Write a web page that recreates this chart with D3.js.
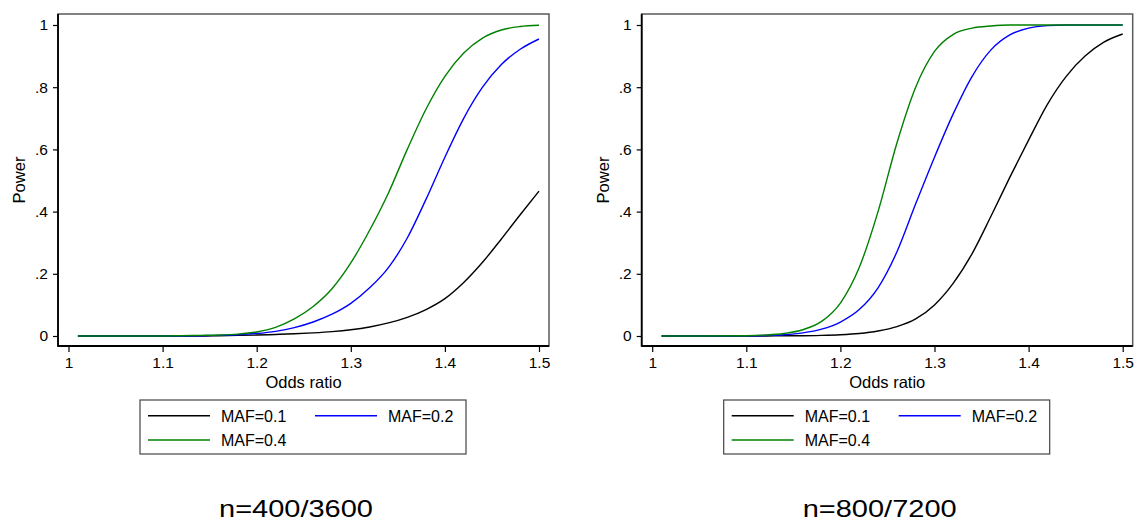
<!DOCTYPE html>
<html>
<head>
<meta charset="utf-8">
<script src="https://cdn.jsdelivr.net/npm/d3@7"></script>
<style>
  body { margin: 0; background: #fff; }
  text { font-family: "Liberation Sans", Arial, Helvetica, sans-serif; fill: #000; }
</style>
</head>
<body>
<div id="chart"></div>
<script>
// odds ratio grid the power values were read at
var oddsRatios = [1.01, 1.05, 1.10, 1.12, 1.14, 1.16, 1.18, 1.20, 1.22, 1.24, 1.26, 1.28,
                  1.30, 1.32, 1.34, 1.36, 1.38, 1.40, 1.42, 1.44, 1.46, 1.48, 1.50];

// n=400/3600
var power400_maf01 = [0, 0, 0, 0, 0, 0.001, 0.002, 0.003, 0.005, 0.007, 0.010, 0.014,
                      0.020, 0.029, 0.042, 0.060, 0.085, 0.120, 0.172, 0.237, 0.312, 0.390, 0.466];
var power400_maf02 = [0, 0, 0, 0, 0.001, 0.002, 0.004, 0.008, 0.015, 0.027, 0.045, 0.070,
                      0.105, 0.155, 0.220, 0.315, 0.440, 0.575, 0.700, 0.800, 0.873, 0.922, 0.955];
var power400_maf04 = [0, 0, 0, 0.001, 0.002, 0.003, 0.006, 0.013, 0.028, 0.055, 0.095, 0.152,
                      0.235, 0.340, 0.460, 0.600, 0.730, 0.835, 0.910, 0.958, 0.984, 0.995, 0.999];

// n=800/7200
var power800_maf01 = [0, 0, 0, 0, 0.001, 0.001, 0.002, 0.004, 0.008, 0.016, 0.030, 0.055,
                      0.100, 0.170, 0.265, 0.385, 0.510, 0.630, 0.745, 0.835, 0.900, 0.945, 0.971];
var power800_maf02 = [0, 0, 0.0005, 0.0015, 0.004, 0.010, 0.022, 0.045, 0.085, 0.155, 0.270, 0.425,
                      0.575, 0.715, 0.835, 0.920, 0.968, 0.990, 0.998, 1, 1, 1, 1];
var power800_maf04 = [0, 0, 0.001, 0.003, 0.008, 0.020, 0.047, 0.106, 0.220, 0.400, 0.620, 0.800,
                      0.915, 0.970, 0.990, 0.997, 1, 1, 1, 1, 1, 1, 1];

var mafLabels = ["MAF=0.1", "MAF=0.2", "MAF=0.4"];
var mafColors = ["#000000", "#0000ff", "#008000"];
var panelTitles = ["n=400/3600", "n=800/7200"];
var xTicks = [1, 1.1, 1.2, 1.3, 1.4, 1.5];
var yTicks = [0, 0.2, 0.4, 0.6, 0.8, 1];

var svg = d3.select("#chart").append("svg")
  .attr("width", 1135)
  .attr("height", 522);

drawPanel(58, [power400_maf01, power400_maf02, power400_maf04], panelTitles[0]);
drawPanel(641.7, [power800_maf01, power800_maf02, power800_maf04], panelTitles[1]);

function drawPanel(left, series, title) {
  var top = 14, bottom = 346, w = 491;
  var g = svg.append("g");

  var x = d3.scaleLinear().domain([1, 1.5]).range([left + 10.5, left + 481]);
  var y = d3.scaleLinear().domain([0, 1]).range([336, 25]);

  // plot region outline
  g.append("rect")
    .attr("x", left).attr("y", top)
    .attr("width", w).attr("height", bottom - top)
    .attr("fill", "none")
    .attr("stroke", "#5a5a5a")
    .attr("stroke-width", 1.5);

  // curves
  var line = d3.line()
    .x(function(d, i) { return x(oddsRatios[i]); })
    .y(function(d) { return y(d); })
    .curve(d3.curveMonotoneX);

  series.forEach(function(s, k) {
    g.append("path")
      .attr("d", line(s))
      .attr("fill", "none")
      .attr("stroke", mafColors[k])
      .attr("stroke-width", 1.4);
  });

  // axes
  var yAxis = d3.axisLeft(y).tickValues(yTicks).tickSize(5).tickSizeOuter(0).tickPadding(5)
    .tickFormat(function(d) {
      if (d === 0) return "0";
      if (d === 1) return "1";
      return String(d).replace("0.", ".");
    });
  var xAxis = d3.axisBottom(x).tickValues(xTicks).tickSize(6).tickSizeOuter(0).tickPadding(5)
    .tickFormat(function(d) { return d === 1 ? "1" : d3.format(".1f")(d); });

  var ya = g.append("g").attr("transform", "translate(" + left + ",0)").call(yAxis);
  var xa = g.append("g").attr("transform", "translate(0," + bottom + ")").call(xAxis);
  [ya, xa].forEach(function(a) {
    a.select(".domain").remove();
    a.selectAll("line").attr("stroke", "#000").attr("stroke-width", 1.2);
    a.selectAll("text").attr("font-size", "15.5px").attr("fill", "#000")
      .style("font-family", "'Liberation Sans', Arial, sans-serif");
  });

  g.append("line")
    .attr("x1", left).attr("x2", left)
    .attr("y1", top).attr("y2", bottom + 0.75)
    .attr("stroke", "#000").attr("stroke-width", 1.8);
  g.append("line")
    .attr("x1", left).attr("x2", left + w)
    .attr("y1", bottom).attr("y2", bottom)
    .attr("stroke", "#000").attr("stroke-width", 1.8);

  // axis titles
  g.append("text")
    .attr("x", (left + left + w) / 2)
    .attr("y", 388)
    .attr("text-anchor", "middle")
    .attr("font-size", "16.5px")
    .text("Odds ratio");

  g.append("text")
    .attr("transform", "translate(" + (left - 33) + "," + ((top + bottom) / 2) + ") rotate(-90)")
    .attr("text-anchor", "middle")
    .attr("font-size", "16.5px")
    .text("Power");

  // legend
  var lx = left + 82, ly = 400;
  g.append("rect")
    .attr("x", lx).attr("y", ly)
    .attr("width", 326).attr("height", 54)
    .attr("fill", "none")
    .attr("stroke", "#444")
    .attr("stroke-width", 1.2);

  var colX = [8, 175], rowY = [15.7, 40];
  var slots = [[0, 0], [1, 0], [0, 1]];
  mafLabels.forEach(function(lab, k) {
    var cx = lx + colX[slots[k][0]], cy = ly + rowY[slots[k][1]];
    g.append("line")
      .attr("x1", cx).attr("x2", cx + 62)
      .attr("y1", cy).attr("y2", cy)
      .attr("stroke", mafColors[k])
      .attr("stroke-width", 1.4);
    g.append("text")
      .attr("x", cx + 73)
      .attr("y", cy + 6)
      .attr("font-size", "16px")
      .text(lab);
  });

  // panel title
  g.append("text")
    .attr("x", left + 238)
    .attr("y", 517)
    .attr("text-anchor", "middle")
    .attr("font-size", "24.5px")
    .attr("textLength", 154)
    .attr("lengthAdjust", "spacingAndGlyphs")
    .text(title);
}
</script>
</body>
</html>
